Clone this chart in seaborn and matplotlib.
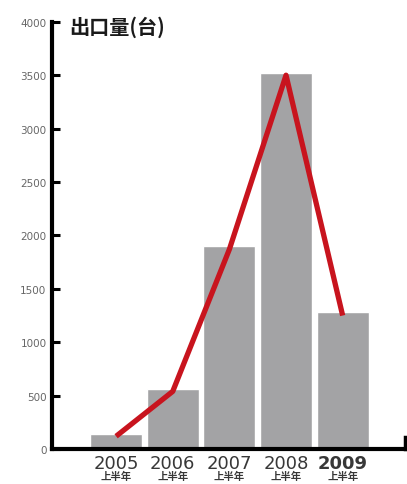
import matplotlib
matplotlib.use("Agg")
import matplotlib.pyplot as plt
import seaborn as sns
import pandas as pd

years = ["2005", "2006", "2007", "2008", "2009"]
half_label = "上半年"
bar_values = [140, 560, 1900, 3520, 1280]
line_values = [120, 540, 1870, 3500, 1250]
y_ticks = [0, 500, 1000, 1500, 2000, 2500, 3000, 3500, 4000]
title = "出口量(台)"

sns.set_theme(style="white")
plt.rcParams['font.family'] = ['DejaVu Sans', 'Noto Sans CJK SC']

df = pd.DataFrame({"year": years, "bar": bar_values, "line": line_values})

fig = plt.figure(figsize=(4.07, 4.85), dpi=100)
ax = fig.add_axes([0.128, 0.072, 0.867, 0.881])

sns.barplot(data=df, x="year", y="bar", color="#a3a3a5", saturation=1,
            width=0.92, ax=ax)
sns.lineplot(x=list(range(len(years))), y=line_values, color="#c8141e",
             linewidth=3.8, ax=ax, solid_capstyle="butt")

ax.set_xlim(-1.13, 5.10)
ax.set_ylim(0, 4000)
ax.set_yticks(y_ticks)
ax.set_yticklabels([str(v) for v in y_ticks], color="#666666", fontsize=7.5)
ax.tick_params(axis="y", left=True, direction="in", length=6, width=2.2,
               color="black", pad=4)
ax.tick_params(axis="x", bottom=False, length=0)
ax.set_xticks(range(len(years)))
ax.set_xticklabels([])
ax.set_xlabel("")
ax.set_ylabel("")

ax.spines["top"].set_visible(False)
ax.spines["left"].set_linewidth(3)
ax.spines["bottom"].set_linewidth(3)
ax.spines["left"].set_color("black")
ax.spines["bottom"].set_color("black")
ax.spines["right"].set_visible(True)
ax.spines["right"].set_color("black")
ax.spines["right"].set_linewidth(2.5)
ax.spines["right"].set_bounds(0, 110)

for i, y in enumerate(years):
    ax.text(i, -45, y, ha="center", va="top", fontsize=13,
            color="#383838", fontweight="bold" if y == "2009" else "normal",
            family=["DejaVu Sans"])
    ax.text(i, -200, half_label, ha="center", va="top", fontsize=7.5,
            color="#383838", fontweight="bold", family=["Noto Sans CJK SC"])

ax.text(-0.82, 3960, title, ha="left", va="center", fontsize=14.5,
        color="#1a1a1a", fontweight="bold", family=["Noto Sans CJK SC"])

fig.savefig("out.png", dpi=100)
